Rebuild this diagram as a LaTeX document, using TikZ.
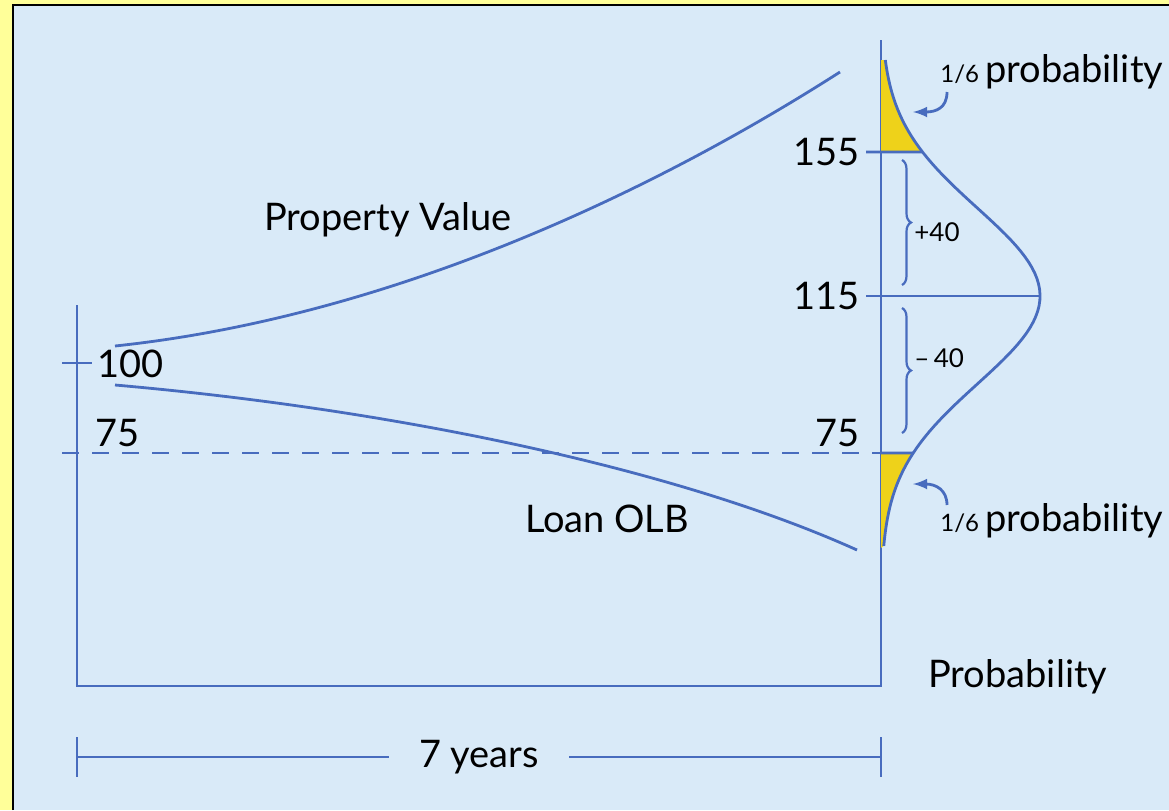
\documentclass[tikz,border=0pt]{standalone}
\usepackage{fontspec}
\setmainfont{Lato}
\usetikzlibrary{positioning,calc,arrows,decorations.pathreplacing}

\definecolor{paper}{RGB}{255,255,153}
\definecolor{sky}{RGB}{217,234,248}
\definecolor{ink}{RGB}{72,108,190}
\definecolor{tail}{RGB}{238,210,26}

\begin{document}
\begin{tikzpicture}[x=0.5pt,y=-0.5pt,
	axis/.style={draw=ink,line width=1.4pt},
	lbl/.style={inner sep=0pt,font=\fontsize{19}{21}\selectfont},
	small/.style={inner sep=0pt,font=\fontsize{13}{14}\selectfont},
	brc/.style={axis,line width=1.1pt,decorate,decoration={brace,amplitude=4.5pt}}]
\def\bell#1{{881+159*exp(-(#1)^2/1.5442)}, {296+100*#1}}
\def\sixth{{\fontsize{12}{12}\selectfont 1/6}\,probability}

\useasboundingbox (0,0) rectangle (1169,810);
\fill[paper] (0,0) rectangle (1169,810);
\fill[sky] (13,5) rectangle (1169,810);
\draw[black,line width=1.3pt] (13,810) -- (13,5) -- (1169,5);

% axes
\coordinate (L) at (77,305);
\coordinate (O) at (77,686);
\coordinate (R) at (881,686);
\coordinate (T) at (881,40);
\draw[axis] (L) -- (O) -- (R) -- (T);

% tails of the bell
\fill[tail] (881,60) -- plot[domain=-2.36:-1.44,samples=30] (\bell{\x}) -- (881,152) -- cycle;
\fill[tail] (881,453) -- plot[domain=1.57:2.50,samples=30] (\bell{\x}) -- (881,548) -- cycle;
\draw[axis] plot[domain=-2.36:2.50,samples=90] (\bell{\x});

% levels
\coordinate (a100) at (62,363);
\coordinate (b100) at (92,363);
\coordinate (a155) at (866,152);
\coordinate (b155) at (\bell{-1.44});
\coordinate (a115) at (866,296);
\coordinate (b115) at (1040,296);
\coordinate (a75) at (62,453);
\coordinate (b75) at (\bell{1.57});
\draw[axis] (a100) -- (b100);
\draw[axis] (a155) -- (b155);
\draw[axis] (a115) -- (b115);
\draw[axis,dash pattern=on 8.5pt off 6.5pt] (a75) -- (R|-a75);
\draw[axis] (R|-a75) -- (b75);

\node[lbl,anchor=west] (n100) at (97,364) {100};
\node[lbl,anchor=west] (n75a) at (95,433) {75};
\node[lbl,anchor=east] (n75b) at (860,433) {75};
\node[lbl,anchor=east] (n155) at (860,152) {155};
\node[lbl,anchor=east] (n115) at (860,296) {115};

% paths over seven years
\draw[axis] (115,346) .. controls (380,318) and (640,200) .. (840,72);
\draw[axis] (115,385) .. controls (400,410) and (680,470) .. (857,550);
\node[lbl] (pv) at (388,220) {Property Value};
\node[lbl] (olb) at (607,519) {Loan OLB};

% spread
\draw[brc] (902,160) -- (902,285);
\draw[brc] (902,308) -- (902,433);
\node[small,anchor=west] (up) at (914,232) {+40};
\node[small,anchor=west] (dn) at (914,358) {--\,40};

% the two tails
\node[lbl,anchor=west] (p1) at (940,72) {\sixth};
\node[lbl,anchor=west] (p2) at (940,521) {\sixth};
\coordinate (s1) at (947,92);
\coordinate (e1) at (913,112);
\coordinate (s2) at (947,505);
\coordinate (e2) at (913,484);
\draw[axis,-latex] (s1) .. controls (947,108) and (936,112) .. (e1);
\draw[axis,-latex] (s2) .. controls (947,490) and (936,484) .. (e2);

\node[lbl,anchor=west] (prob) at (928,677) {Probability};

% time span
\coordinate (y0) at (77,757);
\coordinate (y1) at (881,757);
\node[lbl] (yrs) at (479,757) {7 years};
\draw[axis] (77,737) -- (77,777);
\draw[axis] (881,737) -- (881,777);
\draw[axis] (y0) -- ([xshift=-15pt]yrs.west);
\draw[axis] ([xshift=15pt]yrs.east) -- (y1);
\end{tikzpicture}
\end{document}
